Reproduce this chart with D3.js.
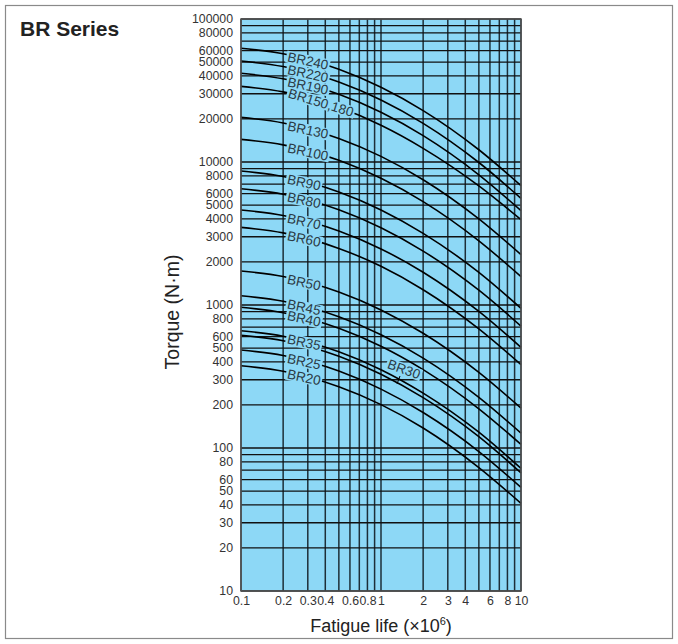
<!DOCTYPE html>
<html>
<head>
<meta charset="utf-8">
<script src="https://cdn.jsdelivr.net/npm/d3@7/dist/d3.min.js"></script>
<style>
  html, body { margin: 0; padding: 0; background: #fff; }
  svg { display: block; }
  text { font-family: "Liberation Sans", Arial, Helvetica, sans-serif; }
</style>
</head>
<body>
<svg id="chart" width="678" height="644"></svg>
<script>
// ---------- data ----------
const lifePoints = [0.1, 0.2, 0.5, 1, 2, 5, 10];          // fatigue life (x10^6)
const seriesNames = ["BR240","BR220","BR190","BR150,180","BR130","BR100","BR90","BR80",
                     "BR70","BR60","BR50","BR45","BR40","BR35","BR30","BR25","BR20"];
const br240    = [62400, 57100, 44490, 33320, 22880, 12180, 6840];
const br220    = [50800, 46480, 36220, 27130, 18620, 9920, 5570];
const br190    = [41700, 38160, 29730, 22270, 15290, 8140, 4570];
const br150180 = [33800, 30930, 24100, 18050, 12450, 6800, 3950];
const br130    = [20500, 18760, 14620, 10950, 7515, 4000, 2250];
const br100    = [14400, 13180, 10270, 7690, 5280, 2810, 1580];
const br90     = [8650, 7915, 6170, 4620, 3170, 1690, 948];
const br80     = [6500, 5950, 4635, 3470, 2383, 1269, 712];
const br70     = [4620, 4227, 3294, 2467, 1694, 902, 506];
const br60     = [3490, 3193, 2488, 1864, 1279, 681, 383];
const br50     = [1730, 1583, 1233, 924, 634, 338, 190];
const br45     = [1160, 1061, 827, 619, 425, 226, 127];
const br40     = [964, 882, 687, 515, 353, 188, 106];
const br35     = [661, 605, 471, 353, 242, 129, 72];
const br30     = [614, 562, 438, 328, 225, 120, 67];
const br25     = [484, 443, 345, 258, 177, 94.5, 53];
const br20     = [376, 344, 268, 201, 138, 73, 41];
const seriesValues = [br240, br220, br190, br150180, br130, br100, br90, br80,
                      br70, br60, br50, br45, br40, br35, br30, br25, br20];

const xTickLabels = [0.1, 0.2, 0.3, 0.4, 0.6, 0.8, 1, 2, 3, 4, 6, 8, 10];
const yTickLabels = [10, 20, 30, 40, 50, 60, 80, 100, 200, 300, 400, 500, 600, 800,
                     1000, 2000, 3000, 4000, 5000, 6000, 8000, 10000, 20000, 30000,
                     40000, 50000, 60000, 80000, 100000];
const xGridValues = [0.1,0.2,0.3,0.4,0.5,0.6,0.7,0.8,0.9,1,2,3,4,5,6,7,8,9,10];
const yGridValues = [10,20,30,40,50,60,70,80,90,100,200,300,400,500,600,700,800,900,
                     1000,2000,3000,4000,5000,6000,7000,8000,9000,10000,20000,30000,
                     40000,50000,60000,70000,80000,90000,100000];

// ---------- layout ----------
const svg = d3.select("#chart");
const pLeft = 241, pRight = 521, pTop = 19, pBottom = 591;
const x = d3.scaleLog().domain([0.1, 10]).range([pLeft, pRight]);
const y = d3.scaleLog().domain([10, 100000]).range([pBottom, pTop]);
const BLUE = "#8dd8f6";

// outer frame
svg.append("rect").attr("x", 5.5).attr("y", 5.5).attr("width", 667).attr("height", 633)
  .attr("fill", "none").attr("stroke", "#8a8a8a").attr("stroke-width", 1.2);

// title
svg.append("text").attr("x", 20).attr("y", 36).attr("font-size", 21)
  .attr("font-weight", "bold").attr("fill", "#222").text("BR Series");

// plot background
svg.append("rect").attr("x", pLeft).attr("y", pTop)
  .attr("width", pRight - pLeft).attr("height", pBottom - pTop).attr("fill", BLUE);

// grid
const grid = svg.append("g");
grid.selectAll("line.v").data(xGridValues).join("line").attr("class", "v")
  .attr("x1", d => x(d)).attr("x2", d => x(d)).attr("y1", pTop).attr("y2", pBottom)
  .attr("stroke", "#1d2f38").attr("stroke-width", 1.5);
grid.selectAll("line.h").data(yGridValues).join("line").attr("class", "h")
  .attr("x1", pLeft).attr("x2", pRight).attr("y1", d => y(d)).attr("y2", d => y(d))
  .attr("stroke", "#111").attr("stroke-width", 1.3);

// curves
const line = d3.line().x(d => x(d[0])).y(d => y(d[1])).curve(d3.curveMonotoneX);
svg.append("g").selectAll("path").data(seriesValues).join("path")
  .attr("d", vals => line(lifePoints.map((L, i) => [L, vals[i]])))
  .attr("fill", "none").attr("stroke", "#000").attr("stroke-width", 1.6);

// value on a curve (log-log interpolation between read points)
function valueAt(vals, L) {
  const lx = Math.log10(L);
  for (let i = 0; i < lifePoints.length - 1; i++) {
    const a = Math.log10(lifePoints[i]), b = Math.log10(lifePoints[i + 1]);
    if (lx >= a && lx <= b) {
      const t = (lx - a) / (b - a);
      return Math.pow(10, Math.log10(vals[i]) * (1 - t) + Math.log10(vals[i + 1]) * t);
    }
  }
  return vals[vals.length - 1];
}

// curve labels
const labelsG = svg.append("g");
seriesNames.forEach((name, i) => {
  const isBR30 = name === "BR30";
  const isLong = name === "BR150,180";
  const fs = 13.5;
  let cx, cy, ang;
  if (isBR30) {
    cx = 404; cy = 369; ang = 20;
  } else {
    const w = isLong ? 66 : (name.length === 5 ? 40 : 32);
    cx = 288 + w / 2;
    cy = y(valueAt(seriesValues[i], x.invert(cx)));
    ang = isLong ? 17 : 12;
  }
  const g = labelsG.append("g").attr("transform", `translate(${cx},${cy}) rotate(${ang})`);
  const rect = g.append("rect").attr("fill", BLUE);
  const t = g.append("text").attr("text-anchor", "middle").attr("dy", "0.36em")
    .attr("font-size", fs).attr("fill", "#2b3a44").text(name);
  const bb = t.node().getBBox();
  rect.attr("x", bb.x - 1.5).attr("y", bb.y + 1.5).attr("width", bb.width + 3).attr("height", bb.height - 3);
  if (isBR30) {
    svg.append("line").attr("x1", 400).attr("y1", 376).attr("x2", 397).attr("y2", 384)
      .attr("stroke", "#000").attr("stroke-width", 1);
  }
});

// plot border
svg.append("rect").attr("x", pLeft).attr("y", pTop)
  .attr("width", pRight - pLeft).attr("height", pBottom - pTop)
  .attr("fill", "none").attr("stroke", "#555").attr("stroke-width", 1.5);

// axes (labels only)
const yAxis = d3.axisLeft(y).tickValues(yTickLabels).tickSize(0).tickPadding(8)
  .tickFormat(d3.format("d"));
const gy = svg.append("g").attr("transform", `translate(${pLeft},0)`).call(yAxis);
gy.select(".domain").remove();
gy.selectAll("text").attr("font-size", 12.3).attr("fill", "#333")
  .attr("font-family", "Liberation Sans, Arial, sans-serif");

const xAxis = d3.axisBottom(x).tickValues(xTickLabels).tickSize(0).tickPadding(5)
  .tickFormat(d => String(d));
const gx = svg.append("g").attr("transform", `translate(0,${pBottom})`).call(xAxis);
gx.select(".domain").remove();
gx.selectAll("text").attr("font-size", 12.3).attr("fill", "#333")
  .attr("font-family", "Liberation Sans, Arial, sans-serif");

// axis titles
svg.append("text").attr("transform", `translate(179,312) rotate(-90)`)
  .attr("text-anchor", "middle").attr("font-size", 19.5).attr("fill", "#222")
  .text("Torque (N·m)");
const xt = svg.append("text").attr("x", (pLeft + pRight) / 2).attr("y", 632)
  .attr("text-anchor", "middle").attr("font-size", 18).attr("fill", "#222");
xt.append("tspan").text("Fatigue life (×10");
xt.append("tspan").attr("font-size", 11).attr("dy", -7).text("6");
xt.append("tspan").attr("dy", 7).text(")");
</script>
</body>
</html>
